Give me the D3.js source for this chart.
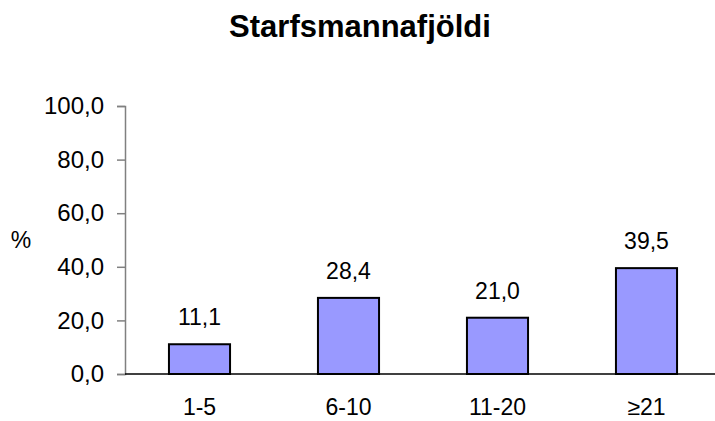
<html>
<head>
    <script src="https://d3js.org/d3.v7.min.js"></script>
    <style>
        body { margin: 0; background: #fff; }
        text { font-family: "Liberation Sans", Arial, sans-serif; fill: #000; }
    </style>
</head>
<body>
    <svg id="svg" width="715" height="421"></svg>
    <script>
        // **** Data ****
        const categories = ['1-5', '6-10', '11-20', '\u226521']
        const values = [11.1, 28.4, 21.0, 39.5]
        const yTicks = [0, 20, 40, 60, 80, 100]

        const svg = d3.select('#svg')
        const fmt = (d) => d.toFixed(1).replace('.', ',')

        const x = d3.scaleBand()
            .domain(categories)
            .range([125, 721])
            .paddingInner(0.59)
            .paddingOuter(0.295)

        const y = d3.scaleLinear().domain([0, 100]).range([374, 106])

        // title
        svg.append('text')
            .attr('x', 360).attr('y', 37)
            .attr('text-anchor', 'middle')
            .style('font-size', '31px').style('font-weight', 'bold')
            .text('Starfsmannafjöldi')

        // y axis
        const yAxis = svg.append('g')
            .attr('transform', 'translate(125,0)')
            .call(d3.axisLeft(y).tickValues(yTicks).tickSize(8).tickPadding(13).tickFormat(fmt))
        yAxis.select('.domain').attr('stroke', '#808080').attr('stroke-width', 1.5)
        yAxis.selectAll('.tick line').attr('stroke', '#808080').attr('stroke-width', 1.5)
        yAxis.selectAll('.tick text').style('font-size', '24px').attr('font-family', null)

        svg.append('text')
            .attr('x', 21).attr('y', 248)
            .attr('text-anchor', 'middle')
            .style('font-size', '23px')
            .text('%')

        // bars
        svg.selectAll('rect.bar')
            .data(values)
            .enter()
            .append('rect')
            .attr('class', 'bar')
            .attr('x', (d, i) => x(categories[i]))
            .attr('y', (d) => y(d))
            .attr('width', x.bandwidth())
            .attr('height', (d) => y(0) - y(d))
            .attr('fill', '#9999ff')
            .attr('stroke', '#000')
            .attr('stroke-width', 2)

        // x axis line
        svg.append('line')
            .attr('x1', 125).attr('x2', 715)
            .attr('y1', y(0)).attr('y2', y(0))
            .attr('stroke', '#000').attr('stroke-width', 1.5)

        // value labels
        svg.selectAll('text.val')
            .data(values)
            .enter()
            .append('text')
            .attr('class', 'val')
            .attr('x', (d, i) => x(categories[i]) + x.bandwidth() / 2)
            .attr('y', (d) => y(d) - 19)
            .attr('text-anchor', 'middle')
            .style('font-size', '23px')
            .text(fmt)

        // category labels
        svg.selectAll('text.cat')
            .data(categories)
            .enter()
            .append('text')
            .attr('class', 'cat')
            .attr('x', (d) => x(d) + x.bandwidth() / 2)
            .attr('y', 415)
            .attr('text-anchor', 'middle')
            .style('font-size', '23px')
            .text((d) => d)
    </script>
</body>
</html>
